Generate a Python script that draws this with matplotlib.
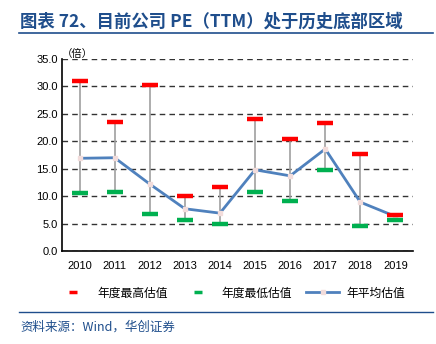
import matplotlib

matplotlib.use("Agg")
import matplotlib.pyplot as plt
from matplotlib.lines import Line2D

plt.rcParams["font.family"] = ["Noto Sans CJK SC", "DejaVu Sans"]
plt.rcParams["axes.unicode_minus"] = False

NAVY = "#1F4E8C"
RED = "#FF0000"
GREEN = "#00B050"
BLUE = "#4F81BD"
GRAY = "#A0A0A0"

years = ["2010", "2011", "2012", "2013", "2014", "2015", "2016", "2017", "2018", "2019"]
pe_high = [31.0, 23.6, 30.2, 10.1, 11.7, 24.0, 20.5, 23.3, 17.6, 6.6]
pe_low = [10.5, 10.8, 6.8, 5.7, 5.0, 10.8, 9.2, 14.7, 4.6, 5.7]
pe_mean = [16.9, 17.0, 12.2, 7.7, 6.9, 14.8, 13.7, 18.6, 8.9, 6.3]

fig = plt.figure(figsize=(4.36, 3.44), dpi=100, facecolor="white")
ax = fig.add_axes([62 / 436, 1 - 251 / 344, 351 / 436, 192 / 344])

x = list(range(len(years)))

# range whiskers from annual low to annual high
ax.vlines(x, pe_low, pe_high, color=GRAY, linewidth=1.2, zorder=2)
ax.plot(x, pe_mean, color=BLUE, linewidth=2.0, marker="s", markersize=3,
        markerfacecolor="#F2DCDB", markeredgecolor="#F2DCDB", zorder=3)
ax.plot(x, pe_high, linestyle="none", marker="_", markersize=12,
        markeredgewidth=3.2, color=RED, zorder=4)
ax.plot(x, pe_low, linestyle="none", marker="_", markersize=12,
        markeredgewidth=3.2, color=GREEN, zorder=4)

ax.set_xlim(-0.5, 9.5)
ax.set_ylim(0, 35)
ax.set_yticks([i * 5 for i in range(8)])
ax.set_yticklabels([f"{i * 5:.1f}" for i in range(8)])
ax.set_xticks(x)
ax.set_xticklabels(years)
ax.tick_params(axis="both", length=0, labelsize=8, colors="black")
ax.tick_params(axis="x", pad=7)
ax.tick_params(axis="y", pad=3)
for lbl in ax.get_xticklabels() + ax.get_yticklabels():
    lbl.set_fontfamily("Liberation Sans")
ax.grid(True, axis="y", linestyle=(0, (4, 3)), linewidth=1.0, color="#333333")
ax.set_axisbelow(True)
for side in ("top", "right"):
    ax.spines[side].set_visible(False)
ax.spines["left"].set_color("black")
ax.spines["bottom"].set_color("black")
ax.spines["left"].set_linewidth(1.2)
ax.spines["bottom"].set_linewidth(1.2)

ax.text(0.0, 1.0, "（倍）", transform=ax.transAxes, fontsize=7.5, ha="left", va="bottom")

handles = [
    Line2D([], [], linestyle="none", marker="_", markersize=6, markeredgewidth=2.5, color=RED),
    Line2D([], [], linestyle="none", marker="_", markersize=6, markeredgewidth=2.5, color=GREEN),
    Line2D([], [], color=BLUE, linewidth=2.0, marker="s", markersize=3,
           markerfacecolor="#F2DCDB", markeredgecolor="#F2DCDB"),
]
labels = ["年度最高估值", "年度最低估值", "年平均估值"]
fig.legend(handles, labels, loc="center", bbox_to_anchor=(0.53, 1 - 293 / 344), ncol=3,
           frameon=False, fontsize=8.5, handlelength=2.8, columnspacing=1.2, handletextpad=0.6)

fig.text(20 / 436, 1 - 22 / 344, "图表 72、目前公司 PE（TTM）处于历史底部区域", fontsize=12.5,
         fontweight="bold", color=NAVY, ha="left", va="center")
fig.add_artist(Line2D([19 / 436, 433 / 436], [1 - 33 / 344, 1 - 33 / 344], color=NAVY, linewidth=1.2))
fig.add_artist(Line2D([19 / 436, 433 / 436], [1 - 312 / 344, 1 - 312 / 344], color=NAVY, linewidth=1.0))
fig.text(20 / 436, 1 - 327 / 344, "资料来源：Wind，华创证券", fontsize=9, style="italic",
         color=NAVY, ha="left", va="center")

fig.savefig("out.png", dpi=100, facecolor="white")
